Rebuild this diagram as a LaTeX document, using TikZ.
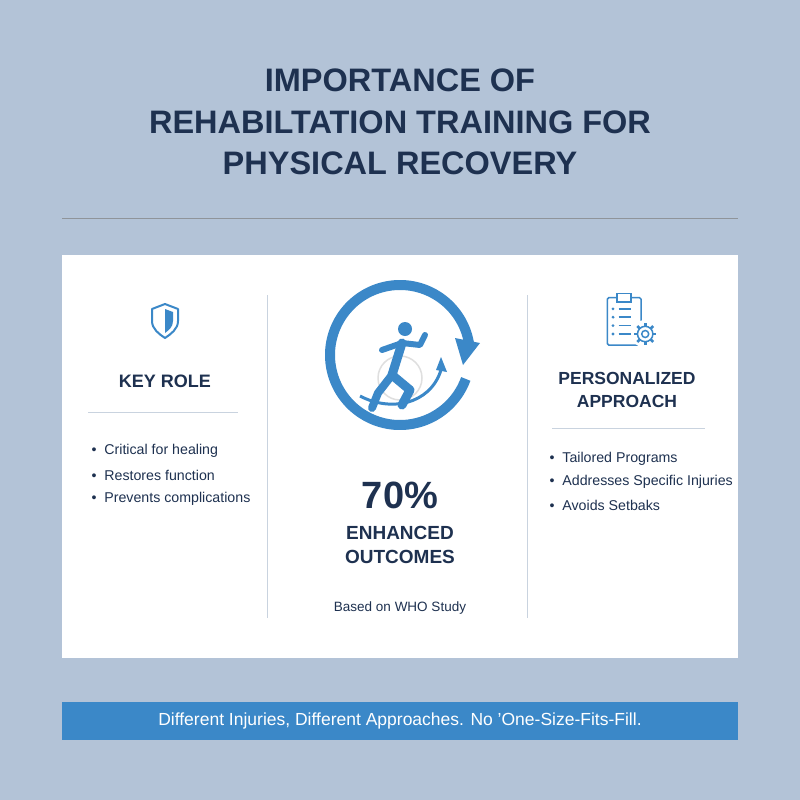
\documentclass[tikz,border=0pt]{standalone}
\usepackage{fontspec}
\setmainfont{Liberation Sans}
\begin{document}
\begin{tikzpicture}[x=1pt,y=-1pt,
  bl/.style={anchor=west,font=\fontsize{14.2}{15}\selectfont,text=titc},
  hd/.style={font=\bfseries\fontsize{18}{22}\selectfont,text=titc,align=center}]
\definecolor{bgc}{HTML}{B3C3D7}
\definecolor{titc}{HTML}{1E3150}
\definecolor{bluec}{HTML}{3B88C8}
\definecolor{linec}{HTML}{C9D3DF}
\fill[bgc] (0,0) rectangle (800,800);
\useasboundingbox (0,0) rectangle (800,800);
\node[font=\bfseries\fontsize{32.5}{41.5}\selectfont,text=titc,align=center] (title) at (400,122) {IMPORTANCE OF\\REHABILTATION TRAINING FOR\\PHYSICAL RECOVERY};
\draw[gray!70!bgc,line width=1] (62,218) -- (738,218);
\fill[white] (62,255) rectangle (738,658);
\draw[linec,line width=1] (267,295) -- (267,618) (527,295) -- (527,618);
% shield
\begin{scope}[shift={(165,320)}]
\draw[bluec,line width=2,line join=round] (0,-16) -- (13,-11) -- (13,1) .. controls (13,9) and (6,14) .. (0,18) .. controls (-6,14) and (-13,9) .. (-13,1) -- (-13,-11) -- cycle;
\fill[bluec] (0,-11) -- (8,-8) -- (8,1) .. controls (8,7) and (4,10) .. (0,13) -- cycle;
\end{scope}
\node[hd] (kr) at (165,381) {KEY ROLE};
\draw[linec,line width=1] (88,412) -- (238,412);
\node[bl] (b1) at (88,451) {•\ \ Critical for healing};
\node[bl] (b2) at (88,475) {•\ \ Restores function};
\node[bl] (b3) at (88,499) {•\ \ Prevents complications};
% center icon
\draw[bluec,line width=10] (400,355) ++(-10:70) arc[start angle=-10,end angle=-340,radius=70];
\fill[bluec] (455,338) -- (480,343) -- (463,365) -- cycle;
\draw[gray!25,line width=1.5] (400,378) ellipse (22 and 22);
\draw[bluec,line width=3] (360,396) .. controls (390,412) and (430,405) .. (441,370);
\fill[bluec] (441,357) -- (447,372) -- (436,370) -- cycle;
\fill[bluec] (405,329) circle (7);
\draw[bluec,line width=9,line cap=round,line join=round] (402,343) -- (392,375) -- (410,390) -- (402,405);
\draw[bluec,line width=8,line cap=round,line join=round] (392,375) -- (378,393) -- (372,408);
\draw[bluec,line width=6,line cap=round,line join=round] (382,350) -- (402,343) -- (420,345) -- (425,335);
\node[font=\bfseries\fontsize{38}{44}\selectfont,text=titc] (pct) at (400,495) {70\%};
\node[font=\bfseries\fontsize{19}{24}\selectfont,text=titc,align=center] (eo) at (400,545) {ENHANCED\\OUTCOMES};
\node[font=\fontsize{13.5}{15}\selectfont,text=titc] (who) at (400,608) {Based on WHO Study};
% clipboard
\begin{scope}[shift={(627,320)},scale=1.4,bluec,line width=1.5]
\draw[rounded corners=1.5] (-14,-16) rectangle (10,18);
\draw[fill=white] (-7,-19) rectangle (3,-13);
\foreach \yy in {-8,-2,4,10}{\fill (-10,\yy) circle (1.1); \draw (-6,\yy) -- (3,\yy);}
\fill[white] (13,10) circle (10);
\draw (13,10) circle (5.5);
\draw (13,10) circle (2.5);
\foreach \a in {0,45,...,315}{\draw[line width=2.6] (13,10) ++(\a:5.5) -- ++(\a:2.5);}
\end{scope}
\node[hd,font=\bfseries\fontsize{17.5}{23}\selectfont] (pa) at (627,390) {PERSONALIZED\\APPROACH};
\draw[linec,line width=1] (552,428) -- (705,428);
\node[bl] (c1) at (546,459) {•\ \ Tailored Programs};
\node[bl] (c2) at (546,482) {•\ \ Addresses Specific Injuries};
\node[bl] (c3) at (546,505) {•\ \ Avoids Setbaks};
\fill[bluec] (62,702) rectangle (738,740);
\node[font=\fontsize{17.5}{20}\selectfont,text=white] (ban) at (400,721) {Different Injuries, Different Approaches. No 'One-Size-Fits-Fill.};
\end{tikzpicture}
\end{document}
